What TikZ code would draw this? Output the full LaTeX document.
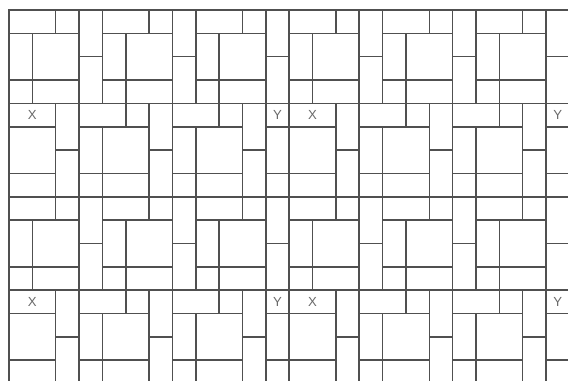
\documentclass[tikz,border=0pt]{standalone}
\usepackage{fontspec}
\setsansfont{Liberation Sans}
\definecolor{tileclr}{HTML}{505050}
\definecolor{markclr}{HTML}{6A6A6A}

\tikzset{
  tile/.style={draw=tileclr, line width=0.9pt},
  seam/.style={font=\sffamily\fontsize{7.5}{9}\selectfont, text=markclr, inner sep=0pt},
}

% the body of one 4x4 block, top-left corner at column #1, row #2
\newcommand{\blockbody}[2]{%
  \draw[tile] (#1,#2+1) rectangle ++(1,2);
  \draw[tile] (#1+1,#2+1) rectangle ++(2,2);
  \draw[tile] (#1,#2+3) rectangle ++(1,1);
  \draw[tile] (#1+1,#2+3) rectangle ++(2,1);
  \draw[tile] (#1+3,#2) rectangle ++(1,2);
  \draw[tile] (#1+3,#2+2) rectangle ++(1,2);
}
% its top row: long piece first, then the small square
\newcommand{\blocktop}[2]{%
  \draw[tile] (#1,#2) rectangle ++(2,1);
  \draw[tile] (#1+2,#2) rectangle ++(1,1);
}
% top row at the seam: small square (Y) first, then long piece (X)
\newcommand{\blockswap}[2]{%
  \draw[tile] (#1,#2) rectangle ++(1,1);
  \draw[tile] (#1+1,#2) rectangle ++(2,1);
}

\begin{document}
\begin{tikzpicture}[x=0.467cm, y=-0.467cm]

\useasboundingbox (-0.385,-0.428) rectangle (23.94,15.846);

\begin{scope}
% keep the pattern to the left edge of column 0
\clip (-0.035,-0.428) rectangle (23.94,15.846);

% --- rows of blocks, repeating every 8 rows --------------------------------
\foreach \r in {0,8} {
  \foreach \c in {0,4,...,20} { \blocktop{\c}{\r} \blockbody{\c}{\r} }
  \foreach \c in {3,7,15,19} { \blocktop{\c}{\r+4} \blockbody{\c}{\r+4} }
  \foreach \c in {-1,11,23} { \blockswap{\c}{\r+4} \blockbody{\c}{\r+4} }
}
\end{scope}

% --- seam marks ------------------------------------------------------------
\node[seam] (xa) at (1,4.5) {X};
\node[seam] (ya) at (11.5,4.5) {Y};
\node[seam] (xb) at (13,4.5) {X};
\node[seam] (yb) at (23.5,4.5) {Y};
\node[seam] (xc) at (1,12.5) {X};
\node[seam] (yc) at (11.5,12.5) {Y};
\node[seam] (xd) at (13,12.5) {X};
\node[seam] (yd) at (23.5,12.5) {Y};

\end{tikzpicture}
\end{document}
